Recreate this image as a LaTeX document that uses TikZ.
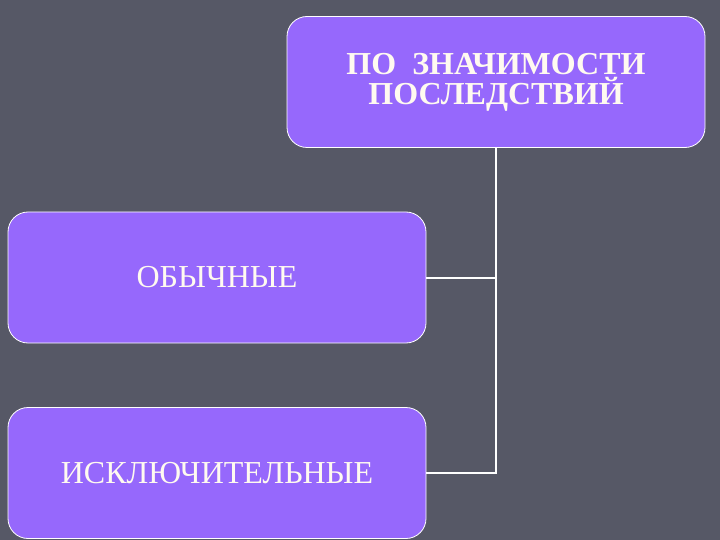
\documentclass[tikz,border=0pt]{standalone}
\usepackage{fontspec}
\setmainfont{Liberation Serif}
\definecolor{slidebg}{RGB}{86,88,102}
\definecolor{boxfill}{RGB}{150,104,252}
\definecolor{boxtext}{RGB}{255,250,240}

\begin{document}
\begin{tikzpicture}[x=1pt,y=-1pt]

      \fill[slidebg] (0,0) rectangle (720,540);
      \useasboundingbox (0,0) rectangle (720,540);

      \begin{scope}[every node/.style={draw=white, line width=.8pt, fill=boxfill,
          rounded corners=20pt, minimum width=418pt, minimum height=131pt,
          inner sep=0pt, align=center, text=boxtext,
          font=\fontsize{32}{30}\selectfont}]
        \node (top)   at (496,82)    {\bfseries ПО\ \ ЗНАЧИМОСТИ\\\bfseries ПОСЛЕДСТВИЙ};
        \node (usual) at (217,277.5) {ОБЫЧНЫЕ};
        \node (excl)  at (217,473)   {ИСКЛЮЧИТЕЛЬНЫЕ};
      \end{scope}

      \begin{scope}[every path/.style={draw=white, line width=2pt}]
        \path (top.south) -- (top.south |- excl.east) -- (excl.east);
        \path (top.south |- usual.east) -- (usual.east);
      \end{scope}

    \end{tikzpicture}
\end{document}
